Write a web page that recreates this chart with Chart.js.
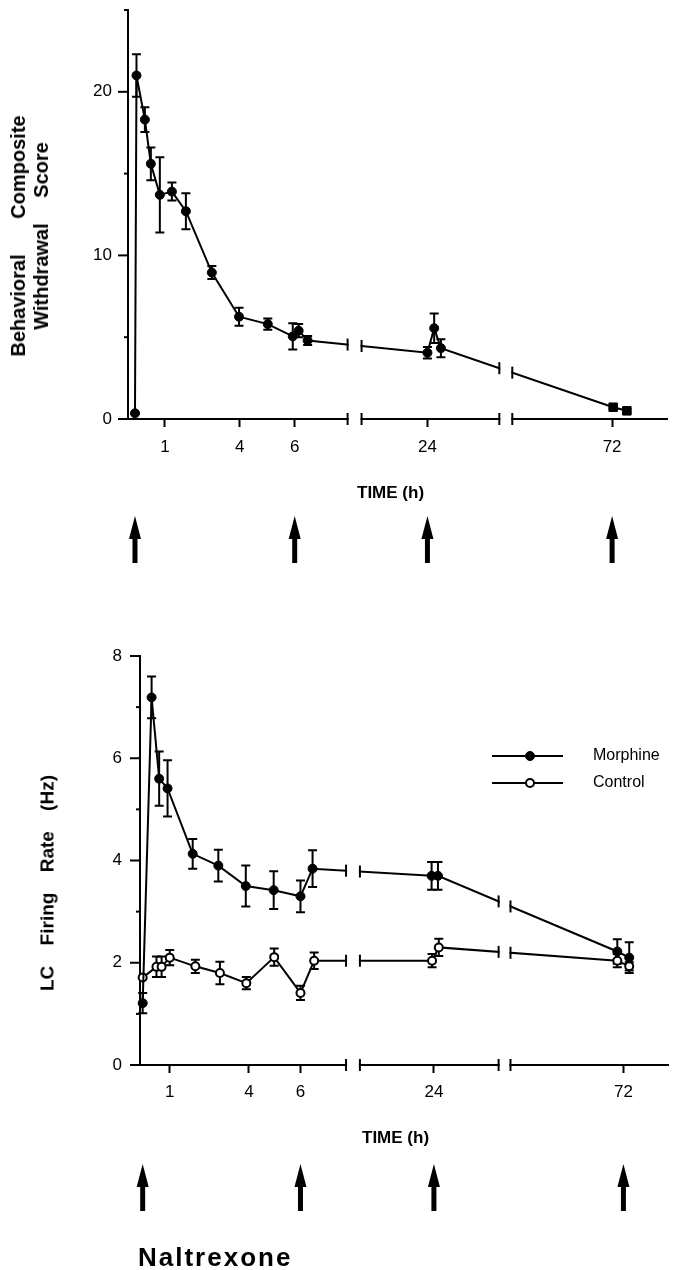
<!DOCTYPE html>
<html>
<head>
<meta charset="utf-8">
<script src="https://cdn.jsdelivr.net/npm/chart.js@4.4.1/dist/chart.umd.min.js"></script>
<style>
  html, body { margin: 0; padding: 0; background: #fff; }
  body { width: 674px; height: 1270px; position: relative; overflow: hidden;
         font-family: "Liberation Sans", Arial, Helvetica, sans-serif; color: #000; }
  canvas { position: absolute; left: 0; }
  #c1 { top: 0; }
  #c2 { top: 600px; }
  .txt { position: absolute; white-space: pre; }
  .ytitle { position: absolute; white-space: pre; font-weight: bold; font-size: 20px;
            line-height: 23px; text-align: center;
            transform: translate(-50%, -50%) rotate(-90deg); }
  .xtitle { position: absolute; white-space: pre; font-weight: bold; font-size: 17px;
            line-height: 17px; transform: translateY(-50%); }
</style>
</head>
<body>
<canvas id="c1" width="674" height="600"></canvas>
<canvas id="c2" width="674" height="670"></canvas>

<div class="ytitle" style="left:30px; top:236px;"><span style="word-spacing:30px">Behavioral Composite</span>
<span style="word-spacing:20px">Withdrawal Score</span></div>
<div class="xtitle" style="left:357px; top:492px;">TIME (h)</div>

<div class="ytitle" style="left:47px; top:883px; font-size:19px; word-spacing:15px;">LC Firing Rate (Hz)</div>
<div class="xtitle" style="left:362px; top:1137px;">TIME (h)</div>

<div class="txt" style="left:138px; top:1244px; font-size:26px; line-height:26px; letter-spacing:2px; font-weight:bold;">Naltrexone</div>

<script>
// ---------------- data ----------------
const xTickHours = [1, 4, 6, 24, 72];
const doseHours  = [0, 6, 24, 72];

// top panel: behavioral composite withdrawal score
const scoreHours = [0, 0.05, 0.33, 0.53, 0.83, 1.28, 1.84, 2.88, 3.97, 5.02, 5.93, 6.15, 6.49, 24, 24.75, 25.5, 72.25, 75.5];
const scoreMean  = [0.35, 21.0, 18.3, 15.6, 13.7, 13.9, 12.7, 8.95, 6.25, 5.8, 5.05, 5.4, 4.8, 4.05, 5.55, 4.33, 0.72, 0.5];
const scoreSem   = [0, 1.3, 0.75, 1.0, 2.3, 0.55, 1.1, 0.4, 0.55, 0.35, 0.8, 0.4, 0.28, 0.35, 0.9, 0.55, 0.1, 0.1];
const scoreYTicks   = [0, 5, 10, 15, 20, 25];
const scoreYLabeled = [0, 10, 20];

// bottom panel: LC firing rate
const morphHours = [0, 0.33, 0.61, 0.92, 1.87, 2.84, 3.88, 4.96, 6, 6.53, 23.75, 24.5, 70.7, 73.3];
const morphRate  = [1.21, 7.19, 5.6, 5.41, 4.13, 3.9, 3.5, 3.42, 3.3, 3.84, 3.7, 3.7, 2.22, 2.1];
const morphSem   = [0.2, 0.41, 0.53, 0.55, 0.29, 0.31, 0.4, 0.37, 0.31, 0.36, 0.27, 0.27, 0.24, 0.3];
const ctrlHours  = [0, 0.51, 0.7, 1.0, 1.97, 2.9, 3.9, 4.98, 6, 6.6, 23.8, 24.6, 70.7, 73.3];
const ctrlRate   = [1.71, 1.92, 1.92, 2.1, 1.93, 1.8, 1.6, 2.11, 1.41, 2.04, 2.04, 2.3, 2.04, 1.93];
const ctrlSem    = [0, 0.2, 0.2, 0.15, 0.13, 0.22, 0.12, 0.17, 0.14, 0.16, 0.13, 0.17, 0.13, 0.08];
const rateYTicks   = [0, 1, 2, 3, 4, 5, 6, 7, 8];
const rateYLabeled = [0, 2, 4, 6, 8];

const seriesNames = ['Morphine', 'Control'];

// ---------------- broken time axis (scale config) ----------------
// [hour, axis offset] knots of the piecewise (broken) time axis
const AXIS_KNOTS = {
  top:    [[-0.25, 0], [0, 7], [1, 37], [4, 112], [6, 167], [8, 220], [16, 234], [24, 300], [32, 372], [48, 385], [72, 485], [85, 540]],
  bottom: [[-0.1, 0], [0, 2.7], [1, 30], [4, 110], [6, 162], [8, 208], [16, 222], [24, 296.7], [32, 362], [48, 374], [72, 488], [82, 533]]
};
const AXIS_GAPS = [[8, 16], [32, 48]];

class BrokenTimeScale extends Chart.LinearScale {
  _knots() { return AXIS_KNOTS[this.options.knotSet]; }
  getPixelForValue(value) {
    if (value === null || value === undefined || isNaN(value)) return NaN;
    const k = this._knots(), n = k.length;
    let i = 0;
    while (i < n - 2 && value > k[i + 1][0]) i++;
    const t0 = k[i][0], p0 = k[i][1], t1 = k[i + 1][0], p1 = k[i + 1][1];
    const p = p0 + (value - t0) * (p1 - p0) / (t1 - t0);
    const span = k[n - 1][1] - k[0][1];
    return this.left + (p - k[0][1]) / span * this.width;
  }
  getValueForPixel(pixel) {
    const k = this._knots(), n = k.length;
    const span = k[n - 1][1] - k[0][1];
    const p = (pixel - this.left) / this.width * span + k[0][1];
    let i = 0;
    while (i < n - 2 && p > k[i + 1][1]) i++;
    const t0 = k[i][0], p0 = k[i][1], t1 = k[i + 1][0], p1 = k[i + 1][1];
    return t0 + (p - p0) * (t1 - t0) / (p1 - p0);
  }
}
BrokenTimeScale.id = 'brokenTime';
BrokenTimeScale.defaults = {};
Chart.register(BrokenTimeScale);

// ---------------- plugins ----------------
const errorBars = {
  id: 'errorBars',
  beforeDatasetsDraw(chart) {
    const ctx = chart.ctx, ys = chart.scales.y;
    ctx.save();
    ctx.strokeStyle = '#000';
    ctx.lineWidth = 2;
    chart.data.datasets.forEach((ds, di) => {
      if (!ds.errs) return;
      const meta = chart.getDatasetMeta(di);
      meta.data.forEach((pt, i) => {
        const e = ds.errs[i];
        if (!e) return;
        const v = ds.data[i].y;
        const yHi = ys.getPixelForValue(v + e), yLo = ys.getPixelForValue(v - e);
        const x = pt.x, c = 4.5;
        ctx.beginPath();
        ctx.moveTo(x, yHi); ctx.lineTo(x, yLo);
        ctx.moveTo(x - c, yHi); ctx.lineTo(x + c, yHi);
        ctx.moveTo(x - c, yLo); ctx.lineTo(x + c, yLo);
        ctx.stroke();
      });
    });
    ctx.restore();
  }
};

function makeYTicks(ticksList, labeled) {
  return {
    id: 'yTickMarks',
    afterDraw(chart) {
      const ys = chart.scales.y, ctx = chart.ctx;
      ctx.save();
      ctx.strokeStyle = '#000';
      ctx.lineWidth = 2;
      ticksList.forEach(v => {
        const y = ys.getPixelForValue(v);
        const len = labeled.includes(v) ? 10 : 4;
        ctx.beginPath();
        ctx.moveTo(ys.right, y);
        ctx.lineTo(ys.right - len, y);
        ctx.stroke();
      });
      ctx.restore();
    }
  };
}

function lineYAt(points, xp) {
  for (let i = 0; i < points.length - 1; i++) {
    const a = points[i], b = points[i + 1];
    if (a.x <= xp && xp <= b.x && b.x > a.x) {
      return a.y + (b.y - a.y) * (xp - a.x) / (b.x - a.x);
    }
  }
  return null;
}

const axisBreaks = {
  id: 'axisBreaks',
  afterDatasetsDraw(chart) {
    const xs = chart.scales.x, area = chart.chartArea, ctx = chart.ctx;
    const metas = chart.data.datasets.map((d, i) => chart.getDatasetMeta(i));
    ctx.save();
    AXIS_GAPS.forEach(([a, b]) => {
      const xa = xs.getPixelForValue(a), xb = xs.getPixelForValue(b);
      ctx.fillStyle = '#fff';
      ctx.fillRect(xa + 1, area.top - 2, xb - xa - 2, area.bottom - area.top + 5);
      ctx.strokeStyle = '#000';
      ctx.lineWidth = 2;
      [xa, xb].forEach(xp => {
        const marks = [area.bottom];
        metas.forEach(m => { const y = lineYAt(m.data, xp); if (y !== null) marks.push(y); });
        marks.forEach(y => {
          ctx.beginPath();
          ctx.moveTo(xp, y - 6);
          ctx.lineTo(xp, y + 6);
          ctx.stroke();
        });
      });
    });
    ctx.restore();
  }
};

function makeArrows(tipY, baseY) {
  return {
    id: 'doseArrows',
    afterDraw(chart) {
      const xs = chart.scales.x, ctx = chart.ctx;
      ctx.save();
      ctx.fillStyle = '#000';
      doseHours.forEach(h => {
        const x = xs.getPixelForValue(h);
        ctx.fillRect(x - 2.5, tipY + 18, 5, baseY - tipY - 18);
        ctx.beginPath();
        ctx.moveTo(x, tipY);
        ctx.lineTo(x + 6, tipY + 23);
        ctx.lineTo(x - 6, tipY + 23);
        ctx.closePath();
        ctx.fill();
      });
      ctx.restore();
    }
  };
}

const legendBox = {
  id: 'legendBox',
  afterDraw(chart) {
    const ctx = chart.ctx;
    ctx.save();
    chart.data.datasets.forEach((ds, i) => {
      const y = 156 + i * 27;
      ctx.strokeStyle = '#000';
      ctx.lineWidth = 2;
      ctx.beginPath(); ctx.moveTo(492, y); ctx.lineTo(563, y); ctx.stroke();
      ctx.beginPath();
      ctx.arc(530, y, i === 0 ? 4.5 : 4, 0, Math.PI * 2);
      ctx.fillStyle = ds.pointBackgroundColor;
      ctx.fill();
      ctx.lineWidth = i === 0 ? 1 : 2;
      ctx.stroke();
      ctx.fillStyle = '#000';
      ctx.font = '16px "Liberation Sans", Arial, sans-serif';
      ctx.textBaseline = 'middle';
      ctx.textAlign = 'left';
      ctx.fillText(ds.label, 593, y);
    });
    ctx.restore();
  }
};

// ---------------- shared axis options ----------------
const tickFont = { family: '"Liberation Sans", Arial, sans-serif', size: 17 };

function xAxis(knotSet, maxH, pad) {
  return {
    type: 'brokenTime',
    knotSet: knotSet,
    min: -0.25, max: maxH,
    afterBuildTicks: s => { s.ticks = xTickHours.map(v => ({ value: v })); },
    afterFit: s => { s.height = 40; s.paddingLeft = 0; s.paddingRight = 0; },
    ticks: { callback: v => String(v), font: tickFont, color: '#000', padding: pad,
             autoSkip: false, maxRotation: 0 },
    grid: { drawOnChartArea: false, drawTicks: true, tickLength: 8, tickWidth: 2, tickColor: '#000' },
    border: { display: true, color: '#000', width: 2 }
  };
}
function yAxis(maxV, step, labeled, width, pad) {
  return {
    type: 'linear', min: 0, max: maxV,
    afterFit: s => { s.width = width; s.paddingTop = 0; s.paddingBottom = 0; },
    ticks: { stepSize: step, callback: v => labeled.includes(v) ? String(v) : '',
             font: tickFont, color: '#000', padding: pad },
    grid: { drawOnChartArea: false, drawTicks: false },
    border: { display: true, color: '#000', width: 2 }
  };
}

// ---------------- top chart ----------------
const topPointStyle = scoreHours.map(h => h > 60 ? 'rect' : 'circle');
const topPointRadius = scoreHours.map(h => h > 60 ? 6 : 4.5);

new Chart(document.getElementById('c1'), {
  type: 'line',
  data: {
    datasets: [{
      label: seriesNames[0],
      data: scoreHours.map((h, i) => ({ x: h, y: scoreMean[i] })),
      errs: scoreSem,
      borderColor: '#000', borderWidth: 2, tension: 0,
      pointBackgroundColor: '#000', pointBorderColor: '#000', pointBorderWidth: 1,
      pointRadius: topPointRadius, pointStyle: topPointStyle,
      clip: false
    }]
  },
  options: {
    responsive: false, animation: false, events: [],
    layout: { padding: { top: 10, right: 6, bottom: 141, left: 0 } },
    plugins: { legend: { display: false }, tooltip: { enabled: false } },
    scales: { x: xAxis('top', 85, 10), y: yAxis(25, 5, scoreYLabeled, 128, 16) }
  },
  plugins: [errorBars, makeYTicks(scoreYTicks, scoreYLabeled), axisBreaks, makeArrows(516, 563)]
});

// ---------------- bottom chart ----------------
new Chart(document.getElementById('c2'), {
  type: 'line',
  data: {
    datasets: [{
      label: seriesNames[0],
      data: morphHours.map((h, i) => ({ x: h, y: morphRate[i] })),
      errs: morphSem,
      borderColor: '#000', borderWidth: 2, tension: 0,
      pointBackgroundColor: '#000', pointBorderColor: '#000', pointBorderWidth: 1,
      pointRadius: 4.5, clip: false
    }, {
      label: seriesNames[1],
      data: ctrlHours.map((h, i) => ({ x: h, y: ctrlRate[i] })),
      errs: ctrlSem,
      borderColor: '#000', borderWidth: 2, tension: 0,
      pointBackgroundColor: '#fff', pointBorderColor: '#000', pointBorderWidth: 2,
      pointRadius: 4, clip: false
    }]
  },
  options: {
    responsive: false, animation: false, events: [],
    layout: { padding: { top: 56, right: 1, bottom: 165, left: 0 } },
    plugins: { legend: { display: false }, tooltip: { enabled: false } },
    scales: { x: xAxis('bottom', 82, 9), y: yAxis(8, 1, rateYLabeled, 140, 18) }
  },
  plugins: [errorBars, makeYTicks(rateYTicks, rateYLabeled), axisBreaks, makeArrows(564, 611), legendBox]
});
</script>
</body>
</html>
